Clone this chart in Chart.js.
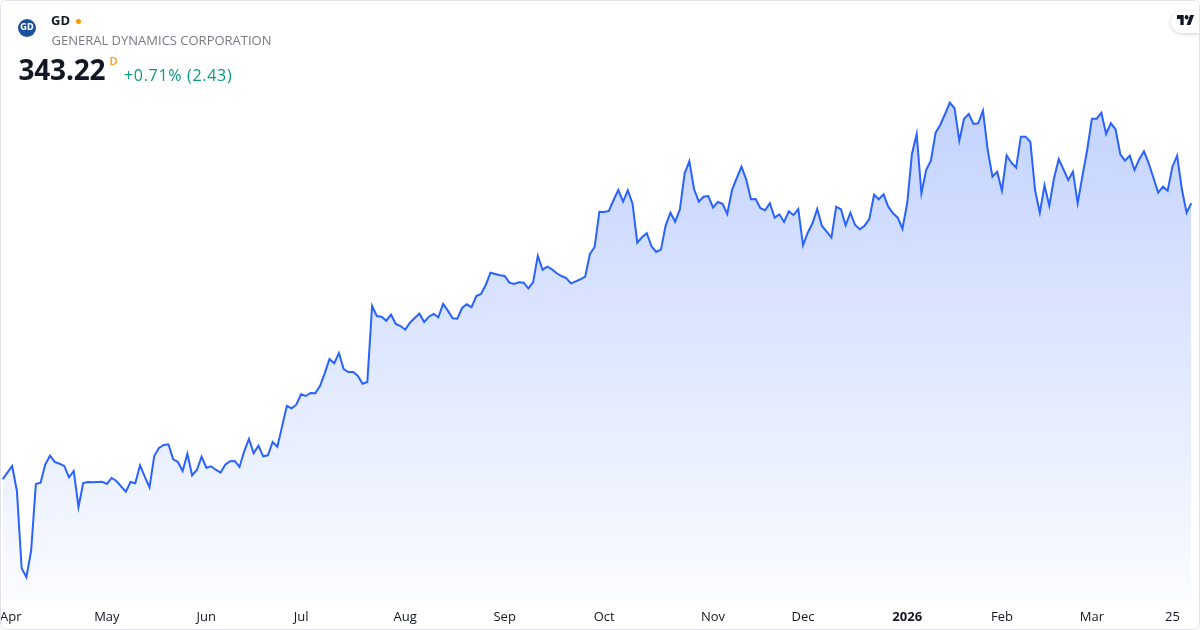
<!DOCTYPE html>
<html>
<head>
<meta charset="utf-8">
<script src="https://cdn.jsdelivr.net/npm/chart.js@4.4.1/dist/chart.umd.min.js"></script>
<style>
  html, body { margin: 0; padding: 0; background: #ffffff; }
  #wrap { position: relative; width: 1200px; height: 630px; overflow: hidden; border-radius: 6px; font-family: "Open Sans", sans-serif; }
  #chart { position: absolute; left: 0; top: 0; }
  #frame { position: absolute; left: 0; top: 0; width: 1200px; height: 630px; box-sizing: border-box; border: 1px solid #e0e3eb; border-radius: 6px; pointer-events: none; }
  .t { position: absolute; white-space: nowrap; }
  #logo { position: absolute; left: 18px; top: 19px; width: 18px; height: 18px; border-radius: 50%; background: #1c4f9c; overflow: hidden; }
  #logo span { position: absolute; left: 0; top: 5px; width: 18px; text-align: center; color: #fff; font: 700 8px/8px "DejaVu Sans", sans-serif; letter-spacing: 0.2px; }
  #dot { position: absolute; left: 75.5px; top: 19px; width: 5px; height: 5px; border-radius: 50%; background: #ff9800; }
  #tv { position: absolute; left: 1171px; top: 11px; width: 50px; height: 22px; border-radius: 11px 0 0 11px; background: #fff; box-shadow: 0 1px 4px rgba(0,0,0,0.18); }
  #tvlogo { position: absolute; left: 1177px; top: 15px; }
</style>
</head>
<body>
<div id="wrap">
  <canvas id="chart" width="1200" height="630"></canvas>
  <div id="logo"><span>GD</span></div>
  <div class="t" style="left:51px; top:14.4px; font-size:13px; line-height:13px; font-weight:700; color:#131722;">GD</div>
  <div id="dot"></div>
  <div class="t" style="left:51.5px; top:33.8px; font-size:13px; line-height:13px; color:#787b86;">GENERAL DYNAMICS CORPORATION</div>
  <div class="t" style="left:18.5px; top:55.1px; font-size:28px; line-height:28px; font-weight:700; color:#131722; letter-spacing:-0.2px;">343.22</div>
  <div class="t" style="left:109.5px; top:54.7px; font-size:11px; line-height:11px; font-weight:600; color:#ff9800;">D</div>
  <div class="t" style="left:124px; top:66.5px; font-size:16px; line-height:16px; color:#089981; letter-spacing:0.7px;">+0.71% (2.43)</div>
  <div id="tv"></div>
  <svg id="tvlogo" width="17" height="10" viewBox="0 4 35.5 18" preserveAspectRatio="none"><path d="M14 22H7V11H0V4h14v18ZM28 22h-8l7.5-18h8L28 22Z" fill="#131722"/><circle cx="20" cy="8" r="4" fill="#131722"/></svg>
  <div id="frame"></div>
</div>
<script>
// Daily closes, 31 Mar 2025 .. 31 Mar 2026 (trading days)
const closes = [
  271.90, 273.63, 275.34, 268.88, 248.90, 246.58, 253.37, 270.69, 271.02, 275.78,
  278.00, 276.37, 275.93, 275.34, 272.42, 274.04, 264.74, 270.94, 271.20, 271.13,
  271.20, 271.28, 270.69, 272.24, 271.46, 270.09, 268.69, 271.20, 270.86, 275.52,
  272.57, 269.83, 277.92, 279.99, 280.76, 280.94, 277.07, 276.37, 274.04, 278.51,
  272.93, 274.30, 277.74, 274.90, 275.26, 274.38, 273.60, 275.67, 276.55, 276.63,
  275.08, 279.13, 282.31, 278.62, 280.58, 277.84, 278.10, 281.54, 280.32, 285.57,
  290.84, 290.25, 291.18, 293.86, 293.42, 294.20, 294.12, 296.01, 299.29, 302.98,
  301.87, 304.54, 300.40, 299.63, 299.63, 298.59, 296.60, 297.04, 316.68, 314.10,
  313.92, 312.88, 314.43, 312.03, 311.51, 310.56, 312.37, 313.58, 314.69, 312.55,
  313.92, 314.61, 313.76, 317.20, 315.47, 313.50, 313.40, 316.16, 317.12, 316.34,
  319.26, 319.78, 322.11, 325.28, 324.95, 324.61, 324.43, 322.70, 322.36, 322.80,
  322.70, 321.25, 322.80, 329.68, 326.06, 326.84, 326.16, 325.13, 324.43, 323.92,
  322.54, 323.06, 323.58, 324.25, 330.12, 331.93, 341.05, 340.97, 341.23, 344.07,
  346.65, 343.63, 346.58, 343.11, 333.04, 334.43, 335.47, 332.11, 330.63, 331.23,
  337.53, 340.79, 338.46, 341.67, 350.97, 354.07, 346.83, 343.63, 344.92, 345.10,
  342.08, 343.55, 343.11, 340.45, 346.65, 349.75, 352.68, 349.42, 344.25, 344.33,
  341.93, 341.41, 343.22, 339.50, 340.37, 338.39, 341.15, 340.19, 341.75, 332.37,
  335.62, 338.05, 341.75, 337.35, 335.88, 334.33, 342.34, 341.67, 337.53, 340.79,
  337.61, 336.50, 337.43, 339.16, 345.44, 344.25, 345.54, 342.34, 340.63, 339.50,
  336.65, 343.22, 355.96, 361.12, 345.80, 351.82, 354.22, 361.46, 363.53, 366.29,
  369.21, 367.77, 359.39, 365.08, 366.29, 363.71, 363.89, 367.15, 356.99, 350.09,
  351.38, 346.47, 355.62, 353.71, 352.42, 360.43, 360.43, 359.13, 346.65, 340.79,
  347.87, 342.60, 349.68, 354.66, 352.00, 349.24, 351.38, 343.22, 350.27, 356.99,
  365.08, 365.08, 366.63, 361.12, 363.89, 362.34, 355.88, 354.22, 355.52, 351.82,
  354.59, 356.65, 353.55, 349.83, 345.96, 347.51, 346.47, 352.68, 355.52, 346.83,
  340.79, 343.22
];

// Time-axis labels and the trading-day index where each one sits
// (first label nudged inward, as the original keeps it inside the frame)
const tickLabels = ['Apr', 'May', 'Jun', 'Jul', 'Aug', 'Sep', 'Oct', 'Nov', 'Dec', '2026', 'Feb', 'Mar', '25'];
const tickIndex  = [1.7, 22, 43, 63, 85, 106, 127, 150, 169, 191, 211, 230, 247];

const points = closes.map((v, i) => ({ x: i, y: v }));

new Chart(document.getElementById('chart'), {
  type: 'line',
  data: {
    datasets: [{
      data: points,
      borderColor: '#2962FF',
      borderWidth: 2,
      pointRadius: 0,
      tension: 0,
      fill: 'start',
      backgroundColor: (ctx) => {
        const chart = ctx.chart;
        const area = chart.chartArea;
        if (!area) return 'rgba(41,98,255,0.1)';
        const topY = chart.scales.y.getPixelForValue(Math.max(...closes));
        const g = chart.ctx.createLinearGradient(0, topY, 0, area.bottom);
        g.addColorStop(0, 'rgba(41,98,255,0.28)');
        g.addColorStop(1, 'rgba(41,98,255,0.02)');
        return g;
      }
    }]
  },
  options: {
    responsive: false,
    devicePixelRatio: 1,
    animation: false,
    layout: { padding: 0 },
    plugins: { legend: { display: false }, tooltip: { enabled: false } },
    scales: {
      x: {
        type: 'linear',
        min: -0.57,
        max: 252.83,
        grid: { display: false, drawTicks: false },
        border: { display: false },
        afterBuildTicks: (scale) => { scale.ticks = tickIndex.map(v => ({ value: v })); },
        afterFit: (scale) => { scale.height = 29; scale.paddingLeft = 0; scale.paddingRight = 0; },
        ticks: {
          autoSkip: false,
          maxRotation: 0,
          minRotation: 0,
          padding: 8,
          color: '#131722',
          font: (c) => ({ family: 'Open Sans', size: 13, weight: tickLabels[c.index] === '2026' ? 'bold' : 'normal' }),
          callback: (value, index) => tickLabels[index]
        }
      },
      y: {
        display: false,
        min: 240.45,
        max: 395.75
      }
    }
  }
});
</script>
</body>
</html>
